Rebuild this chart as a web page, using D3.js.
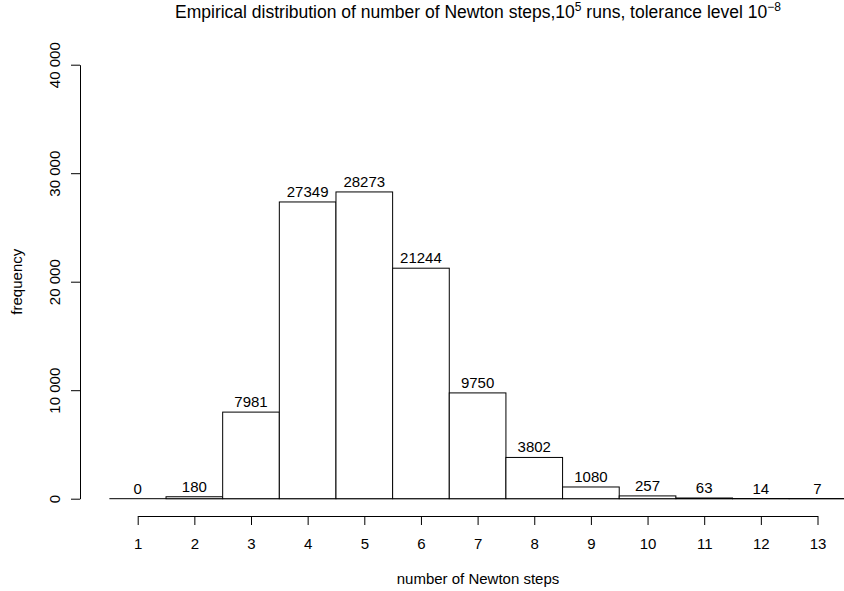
<!DOCTYPE html>
<html>
<head>
<meta charset="utf-8">
<title>Newton steps</title>
<script src="https://cdn.jsdelivr.net/npm/d3@7"></script>
<style>
  body { margin: 0; background: #fff; }
  svg text { font-family: "Liberation Sans", Arial, Helvetica, sans-serif; fill: #000; }
</style>
</head>
<body>
<svg id="chart" width="844" height="591"></svg>
<script>
// histogram counts, 1e5 runs
var steps = [1, 2, 3, 4, 5, 6, 7, 8, 9, 10, 11, 12, 13];
var counts = [0, 180, 7981, 27349, 28273, 21244, 9750, 3802, 1080, 257, 63, 14, 7];
var yTicks = [0, 10000, 20000, 30000, 40000];

var svg = d3.select("#chart");

// x: one unit per step, bars from k-0.5 to k+0.5
var x = d3.scaleLinear().domain([1, 13]).range([137.7, 817.5]);
var y = d3.scaleLinear().domain([0, 40000]).range([498.7, 64.7]);

var fmt = function(d) { return d3.format(",")(d).replace(/,/g, " "); };

// baseline under the bars
svg.append("line")
  .attr("x1", x(0.5)).attr("x2", x(13.5))
  .attr("y1", y(0)).attr("y2", y(0))
  .attr("stroke", "#000").attr("stroke-width", 1);

svg.selectAll("rect.bar")
  .data(counts)
  .enter().append("rect")
  .attr("class", "bar")
  .attr("x", function(d, i) { return x(steps[i] - 0.5); })
  .attr("width", function(d, i) { return x(steps[i] + 0.5) - x(steps[i] - 0.5); })
  .attr("y", function(d) { return y(d); })
  .attr("height", function(d) { return y(0) - y(d); })
  .attr("fill", "#fff")
  .attr("stroke", "#000")
  .attr("stroke-width", 1);

svg.selectAll("text.val")
  .data(counts)
  .enter().append("text")
  .attr("class", "val")
  .attr("x", function(d, i) { return x(steps[i]); })
  .attr("y", function(d) { return y(d) - 5; })
  .attr("text-anchor", "middle")
  .style("font-size", "15px")
  .text(function(d) { return d; });

// y axis
var gy = svg.append("g")
  .attr("transform", "translate(80,0)")
  .call(d3.axisLeft(y).tickValues(yTicks).tickSize(9).tickSizeOuter(0).tickFormat(fmt));
gy.selectAll("text")
  .attr("x", null).attr("dy", null)
  .attr("text-anchor", "middle")
  .attr("transform", "translate(-20,0) rotate(-90)")
  .style("font-size", "15px");

// x axis
var gx = svg.append("g")
  .attr("transform", "translate(0,516)")
  .call(d3.axisBottom(x).tickValues(steps).tickSize(9).tickSizeOuter(0).tickPadding(13));
gx.selectAll("text").style("font-size", "15px");
svg.selectAll(".domain, .tick line").attr("stroke", "#000");
svg.selectAll(".tick text").attr("fill", "#000").attr("font-family", null);

// labels
svg.append("text")
  .attr("x", 478).attr("y", 583.5)
  .attr("text-anchor", "middle")
  .style("font-size", "15px")
  .text("number of Newton steps");

svg.append("text")
  .attr("transform", "translate(22,281.7) rotate(-90)")
  .attr("text-anchor", "middle")
  .style("font-size", "15px")
  .text("frequency");

var title = svg.append("text")
  .attr("x", 478).attr("y", 18)
  .attr("text-anchor", "middle")
  .style("font-size", "17.5px");
title.append("tspan").text("Empirical distribution of number of Newton steps,10");
title.append("tspan").attr("dy", -7).style("font-size", "12px").text("5");
title.append("tspan").attr("dy", 7).text(" runs, tolerance level 10");
title.append("tspan").attr("dy", -7).style("font-size", "12px").text("\u22128");
</script>
</body>
</html>
